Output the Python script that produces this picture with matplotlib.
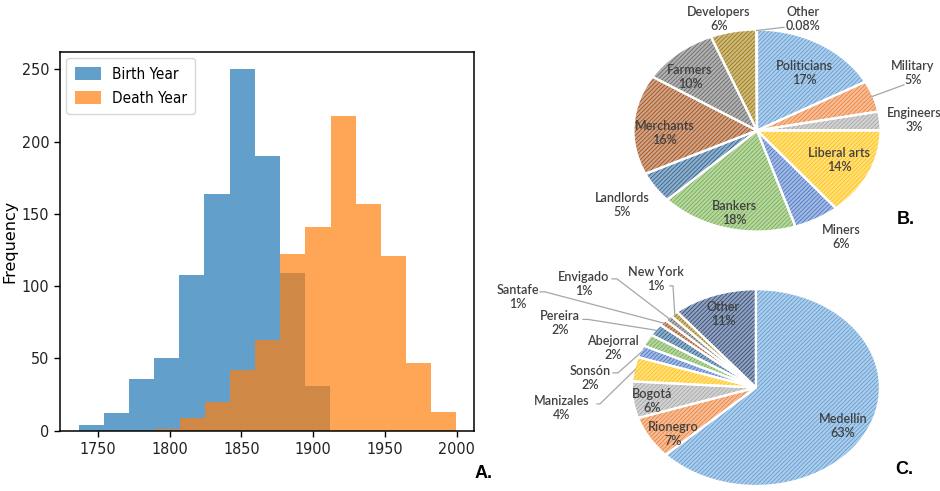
import numpy as np
import matplotlib.pyplot as plt
import matplotlib.colors as mcolors

# histogram of birth / death years (bin counts)
birth_range = (1737.0, 1911.7)
birth_counts = [4, 12, 36, 50, 108, 164, 250, 190, 109, 31]
death_range = (1789.5, 1999.7)
death_counts = [1, 9, 20, 42, 63, 122, 141, 218, 157, 121, 47, 13]

# occupations
occ_labels = ["Politicians", "Military", "Engineers", "Liberal arts", "Miners",
              "Bankers", "Landlords", "Merchants", "Farmers", "Developers", "Other"]
occ_pct = [17, 5, 3, 14, 6, 18, 5, 16, 10, 6, 0.08]
occ_text = ["17%", "5%", "3%", "14%", "6%", "18%", "5%", "16%", "10%", "6%", "0.08%"]

# places of birth
place_labels = ["Medellín", "Rionegro", "Bogotá", "Manizales", "Sonsón", "Abejorral",
                "Pereira", "Santafe", "Envigado", "New York", "Other"]
place_pct = [63, 7, 6, 4, 2, 2, 2, 1, 1, 1, 11]

office = ["#5B9BD5", "#ED7D31", "#A5A5A5", "#FFC000", "#4472C4", "#70AD47",
          "#255E91", "#9E480E", "#636363", "#997300", "#264478"]

TXT = "#404040"
plt.rcParams["hatch.linewidth"] = 0.55

fig = plt.figure(figsize=(9.4, 4.91), dpi=100)

# ---- A. histogram ----
ax = fig.add_axes([0.0642, 0.1228, 0.4401, 0.7713])
b_edges = np.linspace(*birth_range, len(birth_counts) + 1)
d_edges = np.linspace(*death_range, len(death_counts) + 1)
ax.hist(b_edges[:-1], bins=b_edges, weights=birth_counts, color="#1f77b4",
        alpha=0.7, label="Birth Year")
ax.hist(d_edges[:-1], bins=d_edges, weights=death_counts, color="#ff7f0e",
        alpha=0.7, label="Death Year")
ax.set_xlim(1724, 2012)
ax.set_ylim(0, 262)
ax.set_xticks([1750, 1800, 1850, 1900, 1950, 2000])
ax.set_yticks([0, 50, 100, 150, 200, 250])
for lab in ax.get_xticklabels() + ax.get_yticklabels():
    lab.set_fontstretch("condensed")
    lab.set_fontsize(11.5)
    lab.set_color("#222222")
for s in ax.spines.values():
    s.set_linewidth(1.1)
ax.tick_params(length=4, width=1, pad=4)
ax.set_ylabel("Frequency", fontsize=11.5, fontstretch="normal")
ax.yaxis.set_label_coords(-0.105, 0.5)
leg = ax.legend(loc="upper left", prop={"size": 11, "stretch": "condensed"},
                handlelength=1.7, handleheight=0.9, borderpad=0.55,
                labelspacing=0.6, handletextpad=0.7, fancybox=True,
                framealpha=0.8, borderaxespad=0.4)
leg.get_frame().set_edgecolor("#cccccc")


def tint(c, amt):
    r = np.array(mcolors.to_rgb(c))
    return tuple(r + (1 - r) * amt)


def hatched_pie(ax, vals, cols):
    wedges, _ = ax.pie(vals, startangle=90, counterclock=False,
                       colors=[tint(c, 0.5) for c in cols],
                       wedgeprops=dict(linewidth=0, hatch="////////"))
    for w, c in zip(wedges, cols):
        w.set_edgecolor(c)
        w.set_linewidth(0)
    ax.pie(vals, startangle=90, counterclock=False,
           wedgeprops=dict(facecolor="none", edgecolor="white", linewidth=1.6))
    ax.set_aspect("auto")
    ax.set_xlim(-1, 1)
    ax.set_ylim(-1, 1)
    return wedges


def mid_point(w, r=1.0):
    ang = np.deg2rad((w.theta1 + w.theta2) / 2)
    return r * np.cos(ang), r * np.sin(ang)


lab_font = dict(family="Lato", fontsize=9, fontweight="semibold", color=TXT,
                ha="center", va="center", linespacing=1.15)

# ---- B. occupations ----
axb = fig.add_axes([0.6739, 0.5285, 0.2628, 0.4114])
wb = hatched_pie(axb, occ_pct, office)
occ_pos = [(0.381, 0.571), (1.263, 0.571), (1.271, 0.106), (0.664, -0.290),
           (0.680, -1.052), (-0.186, -0.815), (-1.093, -0.736), (-0.745, -0.023),
           (-0.543, 0.532), (-0.308, 1.106), (0.372, 1.106)]
for name, t, (x, y) in zip(occ_labels, occ_text, occ_pos):
    axb.text(x, y, f"{name}\n{t}", **lab_font)
# leader lines for small slices
for i, start in [(1, (1.19, 0.452)), (10, (0.219, 1.022))]:
    ex, ey = mid_point(wb[i], 0.99)
    axb.plot([start[0], ex], [start[1], ey], color="#a6a6a6", lw=0.9,
             clip_on=False)

# ---- C. places of birth ----
axc = fig.add_axes([0.6723, 0.0102, 0.2638, 0.4008])
wc = hatched_pie(axc, place_pct, office)
place_pos = [(0.702, -0.389), (-0.669, -0.471), (-0.839, -0.135),
             (-1.565, -0.206), (-1.339, 0.099), (-1.153, 0.403),
             (-1.581, 0.658), (-1.919, 0.922), (-1.387, 1.054),
             (-0.806, 1.105), (-0.266, 0.749)]
for name, p, (x, y) in zip(place_labels, place_pct, place_pos):
    axc.text(x, y, f"{name}\n{p}%", **lab_font)
leaders = {3: ((-1.282, -0.166), (-1.258, -0.166)),
           4: ((-1.153, 0.150), (-1.113, 0.150)),
           6: ((-1.395, 0.693), (-1.355, 0.693)),
           7: ((-1.742, 0.973), (-1.702, 0.973)),
           8: ((-1.161, 1.105), (-1.121, 1.105)),
           9: ((-0.694, 1.034), (-0.669, 1.034))}
for i, (s, e) in leaders.items():
    ex, ey = mid_point(wc[i], 0.99)
    axc.plot([s[0], e[0], ex], [s[1], e[1], ey], color="#a6a6a6", lw=0.9,
             clip_on=False)

# panel letters
for x, y, t in [(475, 473, "A."), (897, 219, "B."), (895, 470, "C.")]:
    fig.text(x / 940, 1 - y / 491, t, fontsize=13, fontweight="bold",
             family="Liberation Sans", va="center", ha="left")

fig.savefig("out.png", dpi=100)
